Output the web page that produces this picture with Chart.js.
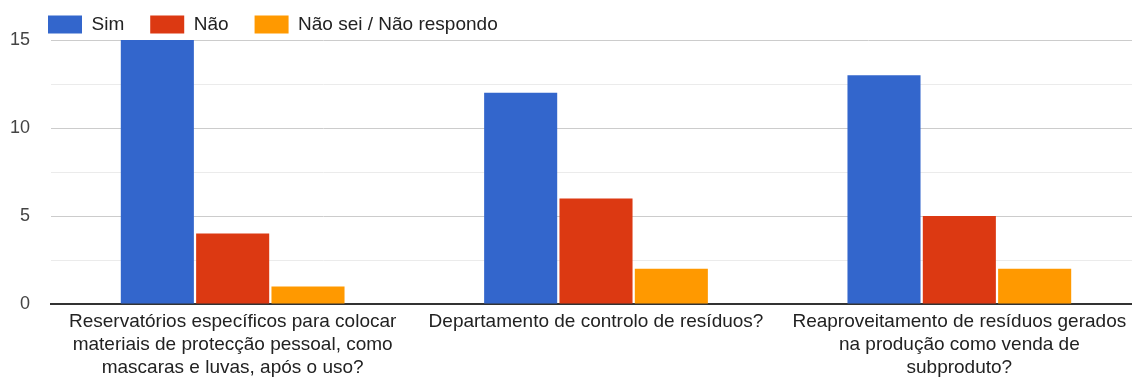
<!DOCTYPE html>
<html>
<head>
<meta charset="utf-8">
<script src="https://cdn.jsdelivr.net/npm/chart.js@4/dist/chart.umd.min.js"></script>
<style>
  html, body { margin: 0; padding: 0; background: #fff; overflow: hidden; }
  #wrap { width: 1141px; height: 378px; position: relative; }
</style>
</head>
<body>
<div id="wrap"><canvas id="surveyChart"></canvas></div>
<script>
// question labels, already split into lines
const questions = [
    ['Reservatórios específicos para colocar', 'materiais de protecção pessoal, como', 'mascaras e luvas, após o uso?'],
    ['Departamento de controlo de resíduos?'],
    ['Reaproveitamento de resíduos gerados', 'na produção como venda de', 'subproduto?'],
];
const simValues = [15, 12, 13];
const naoValues = [4, 6, 5];
const naoSeiValues = [1, 2, 2];
const yTicks = [0, 5, 10, 15];

Chart.defaults.font.family = "'Liberation Sans', Arial, sans-serif";
Chart.defaults.font.size = 19;

// let the y labels use the space left of the axis box (legend offset lives in layout padding)
const widenYLabels = {
    id: 'widenYLabels',
    afterLayout(chart) {
        chart.scales.y.left = 0;
    },
};

const surveyCtx = document.getElementById('surveyChart').getContext('2d');
const surveyChart = new Chart(surveyCtx, {
    type: 'bar',
    data: {
        labels: questions,
        datasets: [
            { label: 'Sim', data: simValues, backgroundColor: '#3366cc' },
            { label: 'Não', data: naoValues, backgroundColor: '#dc3912' },
            { label: 'Não sei / Não respondo', data: naoSeiValues, backgroundColor: '#ff9900' },
        ],
    },
    plugins: [widenYLabels],
    options: {
        responsive: true,
        maintainAspectRatio: false,
        animation: false,
        categoryPercentage: 0.622,
        barPercentage: 0.97,
        layout: {
            padding: { left: 22, top: -11, right: 0, bottom: 0 },
        },
        plugins: {
            tooltip: { enabled: false },
            legend: {
                position: 'top',
                align: 'start',
                maxHeight: 51,
                labels: {
                    boxWidth: 34,
                    boxHeight: 18,
                    padding: 26,
                    color: '#222',
                    font: { size: 19 },
                },
            },
        },
        scales: {
            x: {
                grid: { display: false, drawTicks: false },
                border: { color: '#333', width: 2 },
                ticks: {
                    color: '#222',
                    padding: 6,
                    maxRotation: 0,
                    autoSkip: false,
                    font: { size: 19, lineHeight: 1.21 },
                },
                afterFit: (scale) => { scale.height = 74; },
            },
            y: {
                min: 0,
                max: 15,
                border: { display: false },
                grid: {
                    drawTicks: false,
                    color: (ctx) => {
                        const v = ctx.tick.value;
                        if (v === 0) return 'rgba(0,0,0,0)';
                        return yTicks.includes(v) ? '#cccccc' : '#ebebeb';
                    },
                },
                ticks: {
                    stepSize: 2.5,
                    padding: 21,
                    color: '#444',
                    font: { size: 18 },
                    callback: (value) => (yTicks.includes(value) ? value : ''),
                },
                afterFit: (scale) => { scale.width = 29; },
            },
        },
    },
});
</script>
</body>
</html>
